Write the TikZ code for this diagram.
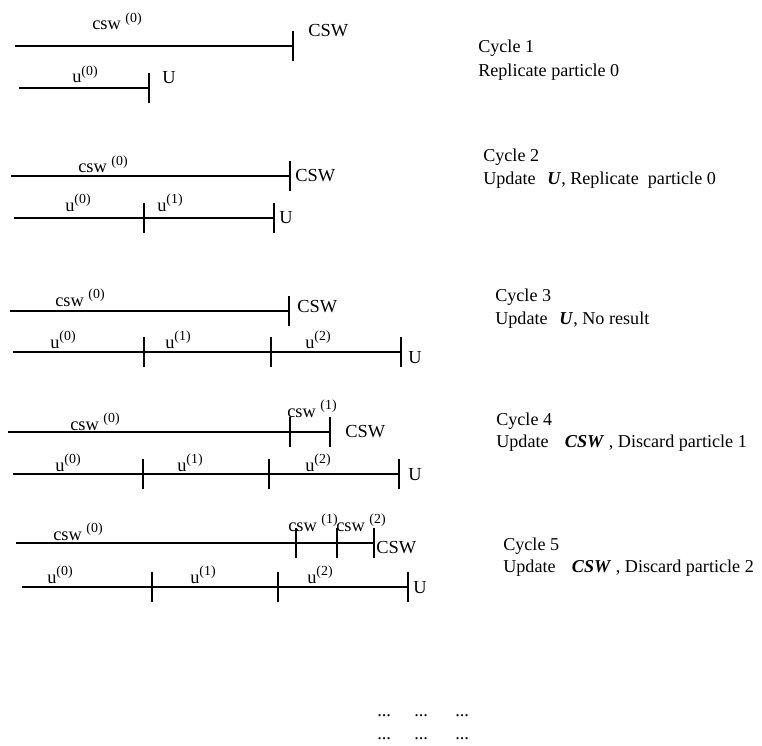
\documentclass[tikz,border=0pt]{standalone}
\usepackage{fontspec}
\setmainfont{Liberation Serif}
\usepackage{tikz}
\usetikzlibrary{positioning}

\newcommand{\bfit}[1]{\textbf{\textit{#1}}}
\newcommand{\idx}[1]{\raisebox{0.42em}{\fontsize{10.4}{11}\selectfont(#1)}}

\begin{document}
\begin{tikzpicture}[x=0.75pt, y=-0.75pt,
  bar/.style={line width=1.4pt},
  stopmark/.style={line width=1.8pt},
  lbl/.style={font=\fontsize{13.8}{16}\selectfont, anchor=base west, inner sep=0pt},
  note/.style={font=\fontsize{13.6}{16}\selectfont, anchor=base west, inner sep=0pt}]
\useasboundingbox (0,0) rectangle (762,745);
% cycle 1
\coordinate (cs1) at (15,46); \coordinate (ce1) at (293,46);
\coordinate (us1) at (19,88); \coordinate (ue1) at (149,88);
\draw[bar] (cs1) -- (ce1);
\draw[bar] (us1) -- (ue1);
\foreach \t in {ce1,ue1} \draw[stopmark] (\t) ++(0,-15) -- ++(0,30);
\node[lbl] (csw1) at (92,30) {csw\ \idx{0}};
\node[lbl] (CSW1) at (308,37) {CSW};
\node[lbl] (u1a) at (72,83) {u\idx{0}};
\node[lbl] (U1) at (162,84) {U};
\node[note] (cyc1) at (478,53) {Cycle 1};
\node[note] (act1) at (478,77) {Replicate particle 0};
% cycle 2
\coordinate (cs2) at (11,176); \coordinate (ce2) at (290,176);
\coordinate (us2) at (14,218); \coordinate (um2) at (144,218); \coordinate (ue2) at (274,218);
\draw[bar] (cs2) -- (ce2);
\draw[bar] (us2) -- (ue2);
\foreach \t in {ce2,um2,ue2} \draw[stopmark] (\t) ++(0,-15) -- ++(0,30);
\node[lbl] (csw2) at (78,173) {csw\ \idx{0}};
\node[lbl] (CSW2) at (295,181) {CSW};
\node[lbl] (u2a) at (65,211) {u\idx{0}};
\node[lbl] (u2b) at (157,211) {u\idx{1}};
\node[lbl] (U2) at (279,223) {U};
\node[note] (cyc2) at (483,162) {Cycle 2};
\node[note] (act2) at (483,185) {Update\hspace{0.65em}\bfit{U}, Replicate\ \ particle 0};
% cycle 3
\coordinate (cs3) at (10,311); \coordinate (ce3) at (289,311);
\coordinate (us3) at (13,352); \coordinate (um3) at (144,352);
\coordinate (un3) at (271,352); \coordinate (ue3) at (401,352);
\draw[bar] (cs3) -- (ce3);
\draw[bar] (us3) -- (ue3);
\foreach \t in {ce3,um3,un3,ue3} \draw[stopmark] (\t) ++(0,-15) -- ++(0,30);
\node[lbl] (csw3) at (55,306) {csw\ \idx{0}};
\node[lbl] (CSW3) at (297,312) {CSW};
\node[lbl] (u3a) at (50,348) {u\idx{0}};
\node[lbl] (u3b) at (165,348) {u\idx{1}};
\node[lbl] (u3c) at (305,348) {u\idx{2}};
\node[lbl] (U3) at (408,363) {U};
\node[note] (cyc3) at (495,301) {Cycle 3};
\node[note] (act3) at (495,324) {Update\hspace{0.65em}\bfit{U}, No result};
% cycle 4
\coordinate (cs4) at (8,432); \coordinate (cm4) at (290,432); \coordinate (ce4) at (330,432);
\coordinate (us4) at (13,474); \coordinate (um4) at (143,474);
\coordinate (un4) at (269,474); \coordinate (ue4) at (399,474);
\draw[bar] (cs4) -- (ce4);
\draw[bar] (us4) -- (ue4);
\foreach \t in {cm4,ce4,um4,un4,ue4} \draw[stopmark] (\t) ++(0,-15) -- ++(0,30);
\node[lbl] (csw4a) at (70,430) {csw\ \idx{0}};
\node[lbl] (csw4b) at (287,417) {csw\ \idx{1}};
\node[lbl] (CSW4) at (345,437) {CSW};
\node[lbl] (u4a) at (55,471) {u\idx{0}};
\node[lbl] (u4b) at (177,471) {u\idx{1}};
\node[lbl] (u4c) at (305,471) {u\idx{2}};
\node[lbl] (U4) at (408,480) {U};
\node[note] (cyc4) at (496,425) {Cycle 4};
\node[note] (act4) at (496,447) {Update\hspace{0.9em}\bfit{CSW}\ , Discard particle 1};
% cycle 5
\coordinate (cs5) at (16,543); \coordinate (cm5) at (296,543);
\coordinate (cn5) at (337,543); \coordinate (ce5) at (374,543);
\coordinate (us5) at (22,587); \coordinate (um5) at (152,587);
\coordinate (un5) at (278,587); \coordinate (ue5) at (408,587);
\draw[bar] (cs5) -- (ce5);
\draw[bar] (us5) -- (ue5);
\foreach \t in {cm5,cn5,ce5,um5,un5,ue5} \draw[stopmark] (\t) ++(0,-15) -- ++(0,30);
\node[lbl] (csw5a) at (53,540) {csw\ \idx{0}};
\node[lbl] (csw5b) at (288,531) {csw\ \idx{1}};
\node[lbl] (csw5c) at (336,531) {csw\ \idx{2}};
\node[lbl] (CSW5) at (376,553) {CSW};
\node[lbl] (u5a) at (47,583) {u\idx{0}};
\node[lbl] (u5b) at (190,583) {u\idx{1}};
\node[lbl] (u5c) at (307,583) {u\idx{2}};
\node[lbl] (U5) at (413,593) {U};
\node[note] (cyc5) at (503,550) {Cycle 5};
\node[note] (act5) at (503,572) {Update\hspace{0.9em}\bfit{CSW}\ , Discard particle 2};
% more cycles
\foreach \r/\y in {a/716,b/739} {
  \node[lbl] (dots\r1) at (377,\y) {...};
  \node[lbl] (dots\r2) at (414,\y) {...};
  \node[lbl] (dots\r3) at (455,\y) {...};
}
\end{tikzpicture}
\end{document}
